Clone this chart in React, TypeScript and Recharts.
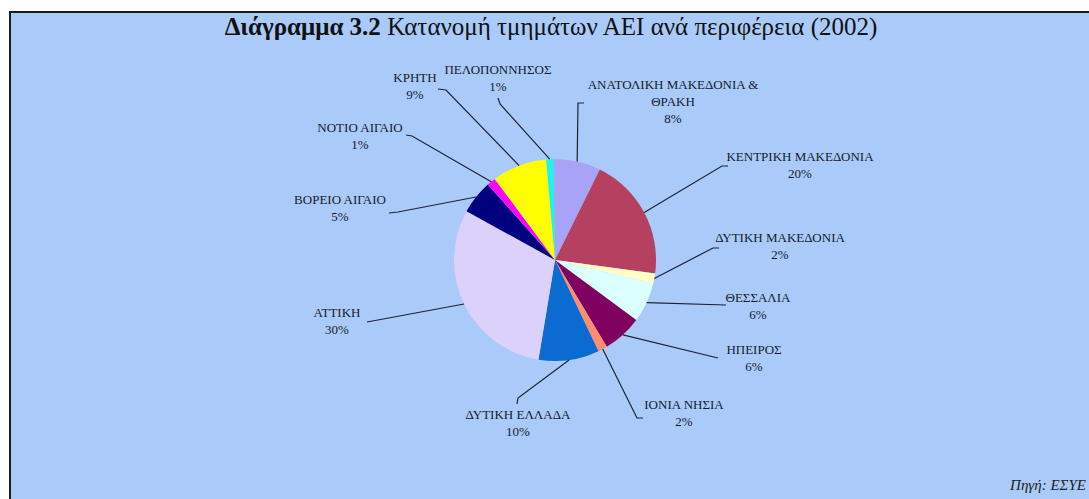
import { Cell, Pie, PieChart } from "recharts";

// regions, clockwise from 12 o'clock
const REGIONS = [
  "ΑΝΑΤΟΛΙΚΗ ΜΑΚΕΔΟΝΙΑ & ΘΡΑΚΗ",
  "ΚΕΝΤΡΙΚΗ ΜΑΚΕΔΟΝΙΑ",
  "ΔΥΤΙΚΗ ΜΑΚΕΔΟΝΙΑ",
  "ΘΕΣΣΑΛΙΑ",
  "ΗΠΕΙΡΟΣ",
  "ΙΟΝΙΑ ΝΗΣΙΑ",
  "ΔΥΤΙΚΗ ΕΛΛΑΔΑ",
  "ΑΤΤΙΚΗ",
  "ΒΟΡΕΙΟ ΑΙΓΑΙΟ",
  "ΝΟΤΙΟ ΑΙΓΑΙΟ",
  "ΚΡΗΤΗ",
  "ΠΕΛΟΠΟΝΝΗΣΟΣ",
];

// share of university departments (%)
const SHARES = [7.6, 19.8, 1.6, 6.4, 6.3, 1.5, 9.7, 30.4, 5.4, 1.4, 8.8, 1.1];

const COLORS = [
  "#a9a3f5",
  "#b5405f",
  "#ffffc6",
  "#dcffff",
  "#80005f",
  "#ff8d70",
  "#0b6bd0",
  "#dcd1fb",
  "#00007f",
  "#ff00ff",
  "#ffff00",
  "#19f5f0",
];

// where each label sits (text centre, first line middle) and the bend of its leader
const LABEL_LAYOUT = [
  { tx: 673, ty: 85, elbow: [578, 103], hook: [584, 103] },
  { tx: 800, ty: 157, elbow: [722, 166], hook: [728, 166] },
  { tx: 780, ty: 238, elbow: [713, 248], hook: [719, 248] },
  { tx: 758, ty: 298, elbow: [726, 305], hook: null },
  { tx: 754, ty: 350, elbow: [718, 358], hook: null },
  { tx: 684, ty: 405, elbow: [637, 418], hook: [643, 418] },
  { tx: 518, ty: 415, elbow: [518, 398], hook: [517, 404] },
  { tx: 337, ty: 313, elbow: [367, 322], hook: null },
  { tx: 340, ty: 200, elbow: [398, 212], hook: [389, 213] },
  { tx: 360, ty: 128, elbow: [412, 136], hook: [406, 135] },
  { tx: 415, ty: 78, elbow: [446, 90], hook: [438, 89] },
  { tx: 498, ty: 70, elbow: [500, 104], hook: [498, 98] },
];

const data = REGIONS.map((name, i) => ({ name, value: SHARES[i] }));

function splitName(name: string) {
  const at = name.indexOf("& ");
  return at < 0 ? [name] : [name.slice(0, at + 1), name.slice(at + 2)];
}

function renderLabel(props: any) {
  const { cx, cy, midAngle, outerRadius, index } = props;
  const rad = Math.PI / 180;
  const sx = cx + outerRadius * Math.cos(-midAngle * rad);
  const sy = cy + outerRadius * Math.sin(-midAngle * rad);
  const layout = LABEL_LAYOUT[index];
  const pts = [[sx, sy], layout.elbow];
  if (layout.hook) pts.push(layout.hook);
  const lines = [...splitName(REGIONS[index]), `${Math.round(SHARES[index])}%`];

  return (
    <g key={`label-${index}`}>
      <polyline
        points={pts.map((p) => p.join(",")).join(" ")}
        fill="none"
        stroke="#1e2230"
        strokeWidth={1.2}
      />
      <text
        x={layout.tx}
        y={layout.ty + 4}
        textAnchor="middle"
        fill="#161a2c"
        fontSize={13}
        fontFamily='"Liberation Serif", "DejaVu Serif", serif'
      >
        {lines.map((t, i) => (
          <tspan key={i} x={layout.tx} dy={i === 0 ? 0 : 17}>
            {t}
          </tspan>
        ))}
      </text>
    </g>
  );
}

export default function App() {
  return (
    <div
      style={{
        position: "absolute",
        left: 0,
        top: 0,
        width: 1089,
        height: 499,
        overflow: "hidden",
        background: "#ffffff",
        fontFamily: '"Liberation Serif", "DejaVu Serif", serif',
      }}
    >
      <div
        style={{
          position: "absolute",
          left: 9,
          top: 11,
          width: 1100,
          height: 500,
          background: "#aacbf9",
          borderLeft: "2px solid #1a1a1a",
          borderTop: "2px solid #1a1a1a",
        }}
      />
      <div
        style={{
          position: "absolute",
          left: 0,
          top: 12,
          width: 1102,
          textAlign: "center",
          fontSize: 25,
          lineHeight: "30px",
          color: "#111",
        }}
      >
        <b>Διάγραμμα 3.2</b> Κατανομή τμημάτων ΑΕΙ ανά περιφέρεια (2002)
      </div>
      <div style={{ position: "absolute", left: 0, top: 0 }}>
        <PieChart width={1089} height={499} margin={{ top: 0, right: 0, bottom: 0, left: 0 }}>
          <Pie
            data={data}
            dataKey="value"
            nameKey="name"
            cx={555}
            cy={260}
            outerRadius={101}
            startAngle={91}
            endAngle={-269}
            stroke="none"
            label={renderLabel}
            labelLine={false}
            isAnimationActive={false}
          >
            {data.map((entry, i) => (
              <Cell key={entry.name} fill={COLORS[i]} />
            ))}
          </Pie>
        </PieChart>
      </div>
      <div
        style={{
          position: "absolute",
          right: 3,
          top: 477,
          fontSize: 15,
          fontStyle: "italic",
          color: "#222",
          whiteSpace: "nowrap",
        }}
      >
        Πηγή: ΕΣΥΕ
      </div>
    </div>
  );
}
